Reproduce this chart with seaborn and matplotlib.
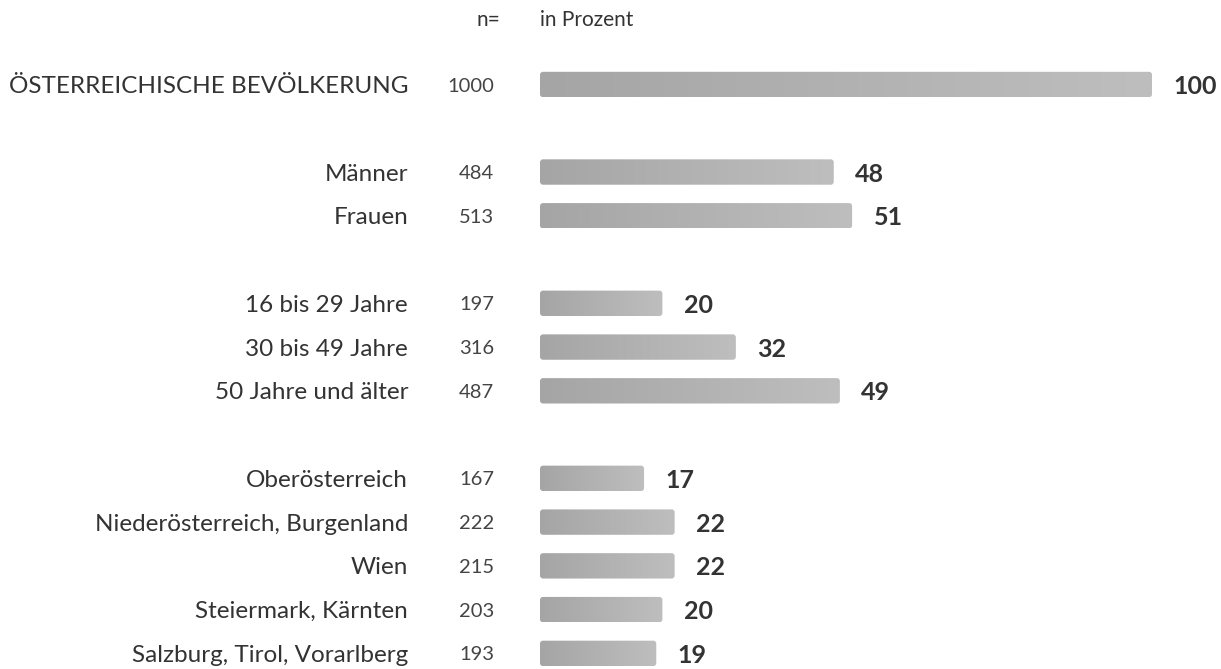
import numpy as np
import pandas as pd
import seaborn as sns
import matplotlib.pyplot as plt
from matplotlib.colors import LinearSegmentedColormap
from matplotlib.patches import FancyBboxPatch

# Data
groups = ["ÖSTERREICHISCHE BEVÖLKERUNG",
          "Männer", "Frauen",
          "16 bis 29 Jahre", "30 bis 49 Jahre", "50 Jahre und älter",
          "Oberösterreich", "Niederösterreich, Burgenland", "Wien",
          "Steiermark, Kärnten", "Salzburg, Tirol, Vorarlberg"]
n_values = [1000, 484, 513, 197, 316, 487, 167, 222, 215, 203, 193]
percent = [100, 48, 51, 20, 32, 49, 17, 22, 22, 20, 19]

data = pd.DataFrame({"Gruppe": groups, "n": n_values, "Prozent": percent})

# empty slots between the blocks
order = [groups[0], " ",
         groups[1], groups[2], "  ",
         groups[3], groups[4], groups[5], "   ",
         groups[6], groups[7], groups[8], groups[9], groups[10]]

sns.set_style("white")
plt.rcParams['font.family'] = ['Lato', 'DejaVu Sans']

fig = plt.figure(figsize=(12.21, 6.69), dpi=100)
ax = fig.add_axes([540 / 1221, 0, 681 / 1221, 1])

sns.barplot(data=data, y="Gruppe", x="Prozent", order=order, orient="h",
            color="#b0b0b0", width=0.58, ax=ax)

px_x = 6.12      # pixels per percent
px_y = 43.76     # pixels per row

# gradient bars with rounded corners
cmap = LinearSegmentedColormap.from_list("grey", ["#a5a5a5", "#bebebe"])
grad = np.linspace(0, 1, 256).reshape(1, -1)
for p in list(ax.patches):
    x0, y0, w, h = p.get_x(), p.get_y(), p.get_width(), p.get_height()
    if not np.isfinite(w) or w == 0:
        continue
    p.set_visible(False)
    box = FancyBboxPatch((x0, y0), w, h,
                         boxstyle=f"round,pad=0,rounding_size={3 / px_x}",
                         mutation_aspect=px_x / px_y,
                         facecolor="none", edgecolor="none")
    ax.add_patch(box)
    im = ax.imshow(grad, cmap=cmap, aspect="auto", interpolation="bilinear",
                   extent=(x0, x0 + w, y0 + h, y0), zorder=2)
    im.set_clip_path(box)
    # value label
    ax.annotate(f"{w:.0f}", (x0 + w, y0 + h / 2), xytext=(15.5, 0),
                textcoords="offset points", ha="left", va="center_baseline",
                fontsize=18, fontweight="bold", color="#333333")

ax.set_xlim(0, 681 / px_x)
ax.set_ylim(13.357, -1.931)

# n= column
for g, n in zip(groups, n_values):
    ax.annotate(f"{n}", (0, order.index(g)), xytext=(-33.1, 0),
                textcoords="offset points", ha="right", va="center_baseline",
                fontsize=14.5, color="#444444")

ax.set_xlabel("")
ax.set_ylabel("")
ax.set_xticks([])
ax.tick_params(axis="y", length=0, pad=95, labelsize=17.5, labelcolor="#333333")
for lbl in ax.get_yticklabels():
    lbl.set_verticalalignment("center_baseline")
sns.despine(ax=ax, left=True, bottom=True)

fig.text(500 / 1221, 1 - 20 / 669, "n=", ha="right", va="center",
         fontsize=15, color="#333333")
fig.text(540 / 1221, 1 - 20 / 669, "in Prozent", ha="left", va="center",
         fontsize=15, color="#333333")

fig.savefig("out.png", dpi=100)
